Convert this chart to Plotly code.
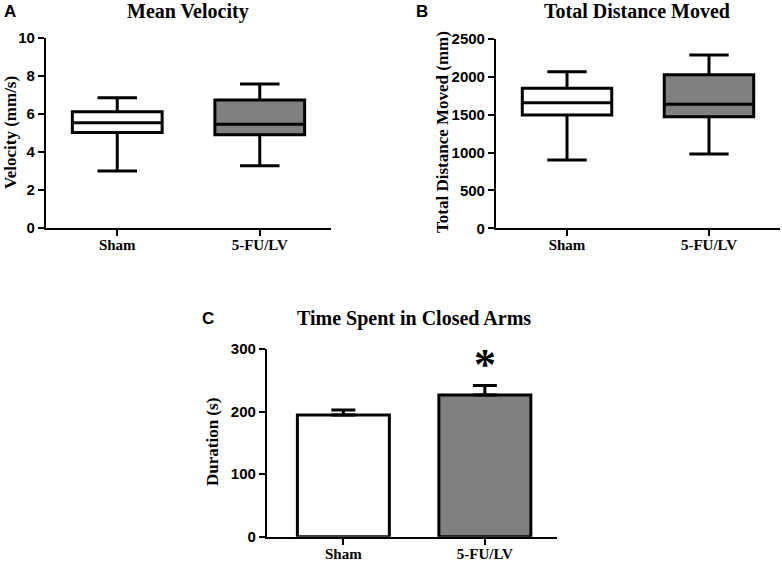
import plotly.graph_objects as go

categories = ["Sham", "5-FU/LV"]

# Panel A: Mean velocity (mm/s) box summaries
vel_low = [3.0, 3.28]
vel_q1 = [5.02, 4.91]
vel_median = [5.54, 5.46]
vel_q3 = [6.12, 6.74]
vel_high = [6.86, 7.58]

# Panel B: Total distance moved (mm) box summaries
dist_low = [902, 981]
dist_q1 = [1496, 1474]
dist_median = [1659, 1637]
dist_q3 = [1849, 2029]
dist_high = [2069, 2289]

# Panel C: Time spent in closed arms (s), mean and SEM
dur_mean = [194.5, 226.5]
dur_sem = [8, 15]

fills = ["white", "#808080"]

SERIF = "Liberation Serif, Times New Roman, serif"
SANS = "Liberation Sans, Arial, sans-serif"

fig = go.Figure()

for i, cat in enumerate(categories):
    fig.add_trace(go.Box(
        x=[cat], q1=[vel_q1[i]], median=[vel_median[i]], q3=[vel_q3[i]],
        lowerfence=[vel_low[i]], upperfence=[vel_high[i]],
        fillcolor=fills[i], line=dict(color="black", width=3),
        width=0.63, whiskerwidth=0.44, boxpoints=False,
        xaxis="x", yaxis="y", showlegend=False, name=cat))
    fig.add_trace(go.Box(
        x=[cat], q1=[dist_q1[i]], median=[dist_median[i]], q3=[dist_q3[i]],
        lowerfence=[dist_low[i]], upperfence=[dist_high[i]],
        fillcolor=fills[i], line=dict(color="black", width=3),
        width=0.63, whiskerwidth=0.44, boxpoints=False,
        xaxis="x2", yaxis="y2", showlegend=False, name=cat))

fig.add_trace(go.Bar(
    x=categories, y=dur_mean,
    marker=dict(color=fills, line=dict(color="black", width=3)),
    width=0.65,
    error_y=dict(type="data", symmetric=False, array=dur_sem,
                 arrayminus=[0, 0], color="black", thickness=3, width=12),
    xaxis="x3", yaxis="y3", showlegend=False))

def xax(domain, rng, anchor):
    return dict(domain=domain, range=rng, anchor=anchor, type="category",
                automargin=False, ticklabelstandoff=-4,
                showline=True, linecolor="black", linewidth=2.2,
                ticks="outside", ticklen=6, tickwidth=2.2, tickcolor="black",
                tickfont=dict(family=SERIF, size=15, color="black", weight="bold"),
                showgrid=False, zeroline=False, fixedrange=True)

def yax(domain, rng, dtick, anchor):
    return dict(domain=domain, range=rng, anchor=anchor, dtick=dtick,
                automargin=False,
                showline=True, linecolor="black", linewidth=2.2,
                ticks="outside", ticklen=6, tickwidth=2.2, tickcolor="black",
                tickfont=dict(family=SANS, size=15, color="black", weight="bold"),
                showgrid=False, zeroline=False, fixedrange=True)

fig.update_layout(
    width=782, height=561,
    autosize=False,
    margin=dict(l=0, r=0, t=0, b=0, pad=0, autoexpand=False),
    paper_bgcolor="white", plot_bgcolor="white",
    boxmode="overlay", showlegend=False,
    xaxis=xax([0.0588, 0.4233], [-0.5, 1.5], "y"),
    yaxis=yax([0.5936, 0.9323], [0, 10], 2, "x"),
    xaxis2=xax([0.6343, 0.9974], [-0.5, 1.5], "y2"),
    yaxis2=yax([0.5930, 0.9305], [0, 2500], 500, "x2"),
    xaxis3=xax([0.3414, 0.7123], [-0.54, 1.51], "y3"),
    yaxis3=yax([0.0433, 0.3779], [0, 300], 100, "x3"),
)

def txt(x, y, s, family, size, angle=0):
    fig.add_annotation(x=x / 782, y=1 - y / 561, xref="paper", yref="paper",
                       text=s, showarrow=False, textangle=angle,
                       xanchor="center", yanchor="middle",
                       font=dict(family=family, size=size, color="black", weight="bold"))

# panel letters
txt(10, 12, "A", SANS, 17)
txt(422, 12, "B", SANS, 17)
txt(208, 318, "C", SANS, 17)
# titles
txt(188, 11, "Mean Velocity", SERIF, 20)
txt(637, 11, "Total Distance Moved", SERIF, 20)
txt(414, 318, "Time Spent in Closed Arms", SERIF, 20)
# axis titles
txt(10, 133, "Velocity (mm/s)", SERIF, 17, -90)
txt(442, 132, "Total Distance Moved (mm)", SERIF, 17, -90)
txt(212, 442, "Duration (s)", SERIF, 17, -90)

# significance marker
fig.add_annotation(x="5-FU/LV", y=276, xref="x3", yref="y3", text="*",
                   showarrow=False, yanchor="middle",
                   font=dict(family=SERIF, size=44, color="black", weight="bold"))

fig.write_html("out.html", config={"displayModeBar": False},
               post_script="document.body.style.margin='0';")
